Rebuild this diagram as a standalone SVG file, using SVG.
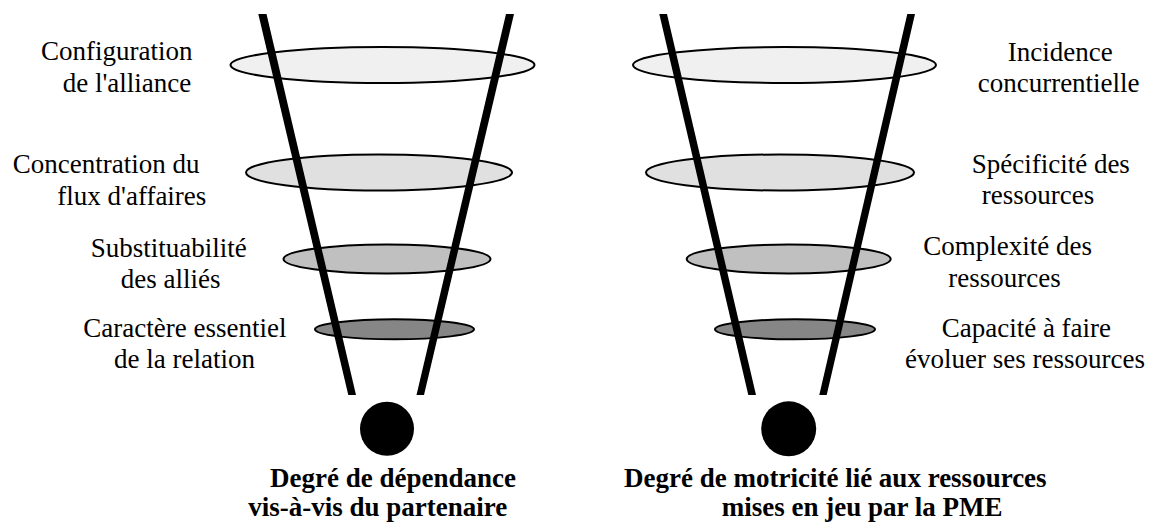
<svg xmlns="http://www.w3.org/2000/svg" width="1152" height="531" viewBox="0 0 1152 531">
<style>
.ring{stroke:#000;stroke-width:2}
.l1{fill:#f0f0f0}.l2{fill:#e0e0e0}.l3{fill:#c0c0c0}.l4{fill:#868686}
.wall{fill:#000}
</style>
<rect width="1152" height="531" fill="#fff"/>
<g id="left-levels" font-family="Liberation Serif, Times New Roman, serif" font-size="27">
<g id="left-level1"><ellipse class="ring l1" cx="382.5" cy="65" rx="152" ry="18"/>
<text x="41" y="60">Configuration</text><text x="62.7" y="92">de l'alliance</text></g>
<g id="left-level2"><ellipse class="ring l2" cx="379" cy="172.5" rx="133" ry="18"/>
<text x="12.7" y="172.7">Concentration du</text><text x="57.3" y="204.5">flux d'affaires</text></g>
<g id="left-level3"><ellipse class="ring l3" cx="387" cy="259" rx="103.5" ry="14.5"/>
<text x="90.7" y="257.3">Substituabilité</text><text x="120.7" y="288.3">des alliés</text></g>
<g id="left-level4"><ellipse class="ring l4" cx="394.5" cy="329.3" rx="79.5" ry="10"/>
<text x="83.3" y="336.7">Caractère essentiel</text><text x="114" y="368.3">de la relation</text></g>
</g>
<g id="right-levels" font-family="Liberation Serif, Times New Roman, serif" font-size="27">
<g id="right-level1"><ellipse class="ring l1" cx="784.5" cy="65" rx="151.5" ry="18"/>
<text x="1007.7" y="61">Incidence</text><text x="977.7" y="92">concurrentielle</text></g>
<g id="right-level2"><ellipse class="ring l2" cx="780" cy="172.5" rx="134" ry="18"/>
<text x="971.7" y="172.7">Spécificité des</text><text x="981.7" y="203.5">ressources</text></g>
<g id="right-level3"><ellipse class="ring l3" cx="788.7" cy="259" rx="102" ry="14.5"/>
<text x="923.3" y="255">Complexité des</text><text x="948.3" y="286.5">ressources</text></g>
<g id="right-level4"><ellipse class="ring l4" cx="795" cy="329.3" rx="80" ry="10"/>
<text x="941.7" y="336.7">Capacité à faire</text><text x="905" y="368.3">évoluer ses ressources</text></g>
</g>
<g id="connectors">
<polygon class="wall" points="258.3,14 266.5,14 356,395 348.3,395"/>
<polygon class="wall" points="506,14 514,14 424,395 416.5,395"/>
<polygon class="wall" points="659.3,14 667,14 756,395 748.3,395"/>
<polygon class="wall" points="907.3,14 915,14 826.7,395 819.3,395"/>
</g>
<g id="left-core" font-family="Liberation Serif, Times New Roman, serif" font-size="27" font-weight="bold"><circle cx="387" cy="428.8" r="27" fill="#000"/>
<text x="270" y="486.7">Degré de dépendance</text><text x="248.3" y="515.5">vis-à-vis du partenaire</text></g>
<g id="right-core" font-family="Liberation Serif, Times New Roman, serif" font-size="27" font-weight="bold"><circle cx="788.7" cy="428.8" r="27.5" fill="#000"/>
<text x="624" y="486.7">Degré de motricité lié aux ressources</text><text x="721.7" y="515.5">mises en jeu par la PME</text></g>
</svg>
